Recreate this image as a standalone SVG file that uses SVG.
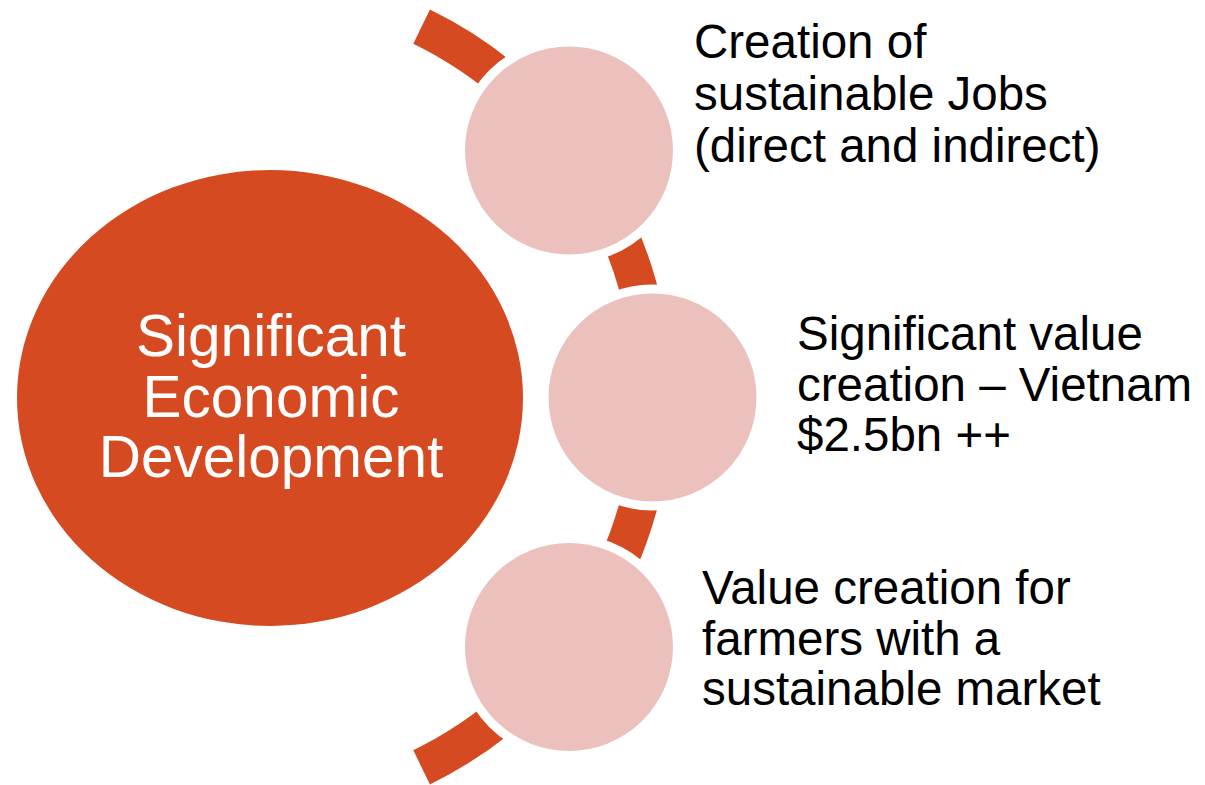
<svg xmlns="http://www.w3.org/2000/svg" width="1205" height="785" viewBox="0 0 1205 785">
  <style>
    .arc { fill: none; stroke: #D64A21; stroke-width: 38; }
    .big { fill: #D64A21; }
    .small { fill: #ECC1BD; stroke: #FFFFFF; stroke-width: 9; }
    .lbl { font-family: "Liberation Sans", Arial, Helvetica, sans-serif; font-size: 47.5px; fill: #000000; }
    .main { font-family: "Liberation Sans", Arial, Helvetica, sans-serif; font-size: 58.5px; fill: #FFFFFF; text-anchor: middle; }
  </style>
  <rect width="1205" height="785" fill="#FFFFFF"/>
  <g id="connectors">
    <path class="arc" d="M 421.6 26.7 A 412 412 0 0 1 421.6 767.3"/>
  </g>
  <g id="node-main">
    <ellipse class="big" cx="270" cy="398" rx="253" ry="228"/>
    <text class="main" x="271" y="356">Significant</text>
    <text class="main" x="271" y="416.5">Economic</text>
    <text class="main" x="271" y="477">Development</text>
  </g>
  <g id="node-jobs">
    <circle class="small" cx="569" cy="150.5" r="108.5"/>
    <text class="lbl" x="694" y="58">Creation of</text>
    <text class="lbl" x="694" y="110">sustainable Jobs</text>
    <text class="lbl" x="694" y="161.5">(direct and indirect)</text>
  </g>
  <g id="node-value">
    <circle class="small" cx="652.5" cy="397.5" r="108.5"/>
    <text class="lbl" x="797" y="349.5">Significant value</text>
    <text class="lbl" x="797" y="400.5">creation – Vietnam</text>
    <text class="lbl" x="797" y="451">$2.5bn ++</text>
  </g>
  <g id="node-farmers">
    <circle class="small" cx="569" cy="647" r="108.5"/>
    <text class="lbl" x="702" y="603.5">Value creation for</text>
    <text class="lbl" x="702" y="655">farmers with a</text>
    <text class="lbl" x="702" y="705">sustainable market</text>
  </g>
</svg>
